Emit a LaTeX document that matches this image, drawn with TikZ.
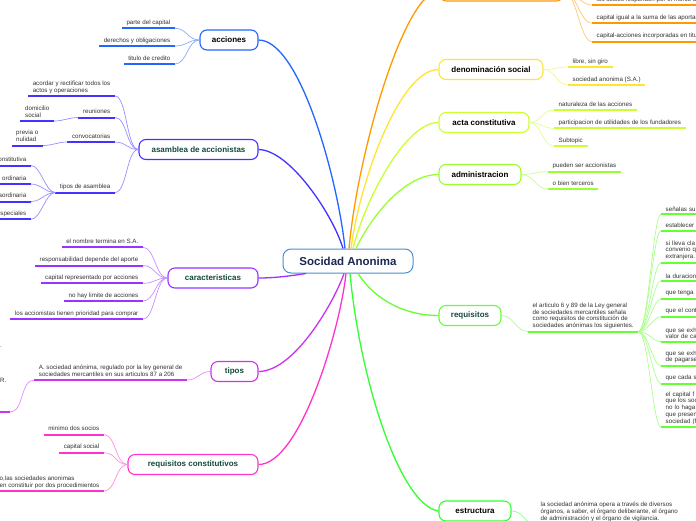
\documentclass[tikz,border=0pt]{standalone}
\usepackage{fontspec}
\setmainfont{Liberation Sans}
\definecolor{accblue}{HTML}{2266FF}
\definecolor{asmviolet}{HTML}{4433FF}
\definecolor{carpurple}{HTML}{9933FF}
\definecolor{tipmag}{HTML}{CC33EE}
\definecolor{rqcpink}{HTML}{FF33CC}
\definecolor{orgorange}{HTML}{FF9900}
\definecolor{denyellow}{HTML}{FFE533}
\definecolor{actlime}{HTML}{CCFF33}
\definecolor{admgreen}{HTML}{99FF33}
\definecolor{reqgreen}{HTML}{66FF33}
\definecolor{estgreen}{HTML}{33FF33}
\definecolor{centralblue}{HTML}{4A90D0}
\definecolor{navy}{HTML}{1A2A50}
\definecolor{dkgreen}{HTML}{124A3A}
\definecolor{leafgray}{HTML}{333333}
\begin{document}
\begin{tikzpicture}[x=1pt,y=-1pt,
  branch/.style={draw=#1, line width=1.1pt, rounded corners=7pt, fill=white,
    minimum height=20pt, inner sep=0pt, font=\fontsize{8}{9}\selectfont\bfseries, text=black},
  leaf/.style={inner xsep=4.5pt, inner ysep=2.2pt, text depth=1.4pt,
    font=\fontsize{6.2}{6.8}\selectfont, text=leafgray, align=left,
    append after command={\pgfextra{\let\ulnode\tikzlastnode}
      (\ulnode.south west) edge[draw=#1, line width=2pt] (\ulnode.south east)}},
  edgeleaf/.style={leaf=#1, anchor=south west, text width=40pt, text depth={}, inner ysep=2.6pt},
  frag/.style={inner sep=0pt, font=\fontsize{6.2}{6.8}\selectfont, text=leafgray},
  mainc/.style={draw=#1, line width=1.3pt},
  lc/.style={draw=#1!55, line width=0.7pt}]
\useasboundingbox (0,0) rectangle (696,520);
\fill[white] (0,0) rectangle (696,520);
\clip (0,0) rectangle (696,520);

% ---------- central and branch boxes ----------
\node[draw=centralblue, line width=1pt, rounded corners=8pt, fill=white,
  minimum width=130pt, minimum height=24pt, inner sep=0pt,
  font=\fontsize{11.5}{13}\selectfont\bfseries, text=navy] (c) at (348,261) {Socidad Anonima};

\node[branch=accblue, minimum width=58pt] (acc) at (229,40) {acciones};
\node[branch=asmviolet, minimum width=119pt, text=dkgreen] (asm) at (198.5,149.5) {asamblea de accionistas};
\node[branch=carpurple, minimum width=90pt, text=dkgreen] (car) at (213,278) {caracteristicas};
\node[branch=tipmag, minimum width=47pt, text=dkgreen] (tip) at (234.5,371.5) {tipos};
\node[branch=rqcpink, minimum width=130pt, text=dkgreen] (rqc) at (193,464.5) {requisitos constitutivos};
\node[branch=orgorange, minimum width=124pt] (org) at (501.5,-9) {};
\node[branch=denyellow, minimum width=104pt] (den) at (491,69.5) {denominación social};
\node[branch=actlime, minimum width=90pt] (act) at (484,122.5) {acta constitutiva};
\node[branch=admgreen, minimum width=82pt] (adm) at (480,174.5) {administracion};
\node[branch=reqgreen, minimum width=62pt, text=dkgreen] (req) at (470,315.5) {requisitos};
\node[branch=estgreen, minimum width=72pt] (est) at (475,511) {estructura};

% ---------- main connectors ----------
\draw[mainc=accblue] ([xshift=-3pt]c.north) .. controls (338,180) and (300,40) .. (acc.east);
\draw[mainc=asmviolet] ([xshift=-5pt]c.north) .. controls (333,215) and (290,150) .. (asm.east);
\draw[mainc=carpurple] ([xshift=-42pt]c.south) .. controls (290,276) and (275,278) .. (car.east);
\draw[mainc=tipmag] ([xshift=-4pt]c.south) .. controls (335,300) and (295,371.5) .. (tip.east);
\draw[mainc=rqcpink] ([xshift=-2pt]c.south) .. controls (340,330) and (300,464.5) .. (rqc.east);
\draw[mainc=orgorange] ([xshift=1pt]c.north) .. controls (358,150) and (405,-9) .. (org.west);
\draw[mainc=denyellow] ([xshift=3pt]c.north) .. controls (360,180) and (400,69.5) .. (den.west);
\draw[mainc=actlime] ([xshift=5pt]c.north) .. controls (365,200) and (405,122.5) .. (act.west);
\draw[mainc=admgreen] ([xshift=8pt]c.north) .. controls (372,215) and (405,174.5) .. (adm.west);
\draw[mainc=reqgreen] ([xshift=10pt]c.south) .. controls (375,300) and (405,315.5) .. (req.west);
\draw[mainc=estgreen] ([xshift=2pt]c.south) .. controls (360,380) and (400,505) .. (est.west);

% ---------- acciones ----------
\node[leaf=accblue, anchor=south east] (a1) at (175,28.3) {parte del capital};
\node[leaf=accblue, anchor=south east] (a2) at (175,46) {derechos y obligaciones};
\node[leaf=accblue, anchor=south east] (a3) at (175,64) {titulo de credito};
\foreach \n in {a1,a2,a3}
  \draw[lc=accblue] (acc.west) .. controls +(-12,0) and +(12,0) .. (\n.south east);

% ---------- asamblea ----------
\node[leaf=asmviolet, anchor=south east] (s1) at (115,96) {acordar y rectificar todos los\\actos y operaciones};
\node[leaf=asmviolet, anchor=south east] (s2) at (115,117.5) {reuniones};
\node[leaf=asmviolet, anchor=south east] (s3) at (115,142) {convocatorias};
\node[leaf=asmviolet, anchor=south east] (s4) at (115,192.5) {tipos de asamblea};
\foreach \n in {s1,s2,s3,s4}
  \draw[lc=asmviolet] (asm.west) .. controls +(-12,0) and +(12,0) .. (\n.south east);
\node[leaf=asmviolet, anchor=south east] (s2a) at (54,121) {domicilio\\social};
\node[leaf=asmviolet, anchor=south east] (s3a) at (43,145.5) {previa o\\nulidad};
\draw[lc=asmviolet] (s2.south west) .. controls +(-10,0) and +(10,0) .. (s2a.south east);
\draw[lc=asmviolet] (s3.south west) .. controls +(-10,0) and +(10,0) .. (s3a.south east);
\node[leaf=asmviolet, anchor=south east] (s4a) at (31,165.5) {constitutiva};
\node[leaf=asmviolet, anchor=south east] (s4b) at (31,184) {ordinaria};
\node[leaf=asmviolet, anchor=south east] (s4c) at (31,201.5) {extraordinaria};
\node[leaf=asmviolet, anchor=south east] (s4d) at (31,219.3) {especiales};
\foreach \n in {s4a,s4b,s4c,s4d}
  \draw[lc=asmviolet] (s4.south west) .. controls +(-10,0) and +(10,0) .. (\n.south east);

% ---------- caracteristicas ----------
\node[leaf=carpurple, anchor=south east] (c1) at (143,247.3) {el nombre termina en S.A.};
\node[leaf=carpurple, anchor=south east] (c2) at (143,265.5) {responsabilidad depende del aporte};
\node[leaf=carpurple, anchor=south east] (c3) at (143,283.3) {capital representado por acciones};
\node[leaf=carpurple, anchor=south east] (c4) at (143,301) {no hay limite de acciones};
\node[leaf=carpurple, anchor=south east] (c5) at (143,319) {los accionistas tienen prioridad para comprar};
\foreach \n in {c1,c2,c3,c4,c5}
  \draw[lc=carpurple] (car.west) .. controls +(-12,0) and +(12,0) .. (\n.south east);

% ---------- tipos ----------
\node[leaf=tipmag, anchor=south east] (t1) at (187,380) {A. sociedad anónima, regulado por la ley general de\\sociedades mercantiles en sus articulos 87 a 206};
\draw[lc=tipmag] (tip.west) .. controls +(-12,0) and +(12,0) .. (t1.south east);
\node[leaf=tipmag, anchor=south east, minimum width=40pt, minimum height=6pt] (t1a) at (10,412) {};
\draw[lc=tipmag] (t1.south west) .. controls +(-14,0) and +(14,0) .. (t1a.south east);
\node[frag, anchor=west] (t1b) at (0,347) {.};
\node[frag, anchor=west] (t1c) at (0,380) {R.};

% ---------- requisitos constitutivos ----------
\node[leaf=rqcpink, anchor=south east] (r1) at (104,434.7) {minimo dos socios};
\node[leaf=rqcpink, anchor=south east] (r2) at (104,452.7) {capital social};
\node[leaf=rqcpink, anchor=south east] (r3) at (104,491) {o,las sociedades anonimas\\en constituir por dos procedimientos};
\foreach \n in {r1,r2,r3}
  \draw[lc=rqcpink] (rqc.west) .. controls +(-12,0) and +(12,0) .. (\n.south east);

% ---------- orange (top) ----------
\node[leaf=orgorange, anchor=south west] (o1) at (592,5) {los socios responden por el monto de su aportación};
\node[leaf=orgorange, anchor=south west] (o2) at (592,23.3) {capital igual a la suma de las aportaciones};
\node[leaf=orgorange, anchor=south west] (o3) at (592,41.7) {capital-acciones incorporadas en titulos};
\foreach \n in {o1,o2,o3}
  \draw[lc=orgorange] (org.east) .. controls +(12,0) and +(-12,0) .. (\n.south west);

% ---------- denominacion social ----------
\node[leaf=denyellow, anchor=south west] (d1) at (568,67) {libre, sin giro};
\node[leaf=denyellow, anchor=south west] (d2) at (568,85) {sociedad anonima (S.A.)};
\foreach \n in {d1,d2}
  \draw[lc=denyellow] (den.east) .. controls +(12,0) and +(-12,0) .. (\n.south west);

% ---------- acta constitutiva ----------
\node[leaf=actlime, anchor=south west] (k1) at (554,110) {naturaleza de las acciones};
\node[leaf=actlime, anchor=south west] (k2) at (554,128.3) {participacion de utilidades de los fundadores};
\node[leaf=actlime, anchor=south west] (k3) at (554,146) {Subtopic};
\foreach \n in {k1,k2,k3}
  \draw[lc=actlime] (act.east) .. controls +(12,0) and +(-12,0) .. (\n.south west);

% ---------- administracion ----------
\node[leaf=admgreen, anchor=south west] (m1) at (548,171.7) {pueden ser accionistas};
\node[leaf=admgreen, anchor=south west] (m2) at (548,189.3) {o bien terceros};
\foreach \n in {m1,m2}
  \draw[lc=admgreen] (adm.east) .. controls +(12,0) and +(-12,0) .. (\n.south west);

% ---------- requisitos ----------
\node[leaf=reqgreen, anchor=south west] (q0) at (528,331.5) {el articulo 6 y 89 de la Ley general\\de sociedades mercantiles señala\\como requisitos de constitución de\\sociedades anónimas los siguientes.};
\draw[lc=reqgreen] (req.east) .. controls +(12,0) and +(-12,0) .. (q0.south west);
\node[edgeleaf=reqgreen] (q1) at (661,214.3) {señalas su};
\node[edgeleaf=reqgreen] (q2) at (661,230.7) {establecer};
\node[edgeleaf=reqgreen] (q3) at (661,262.7) {si lleva cla\\convenio q\\extranjera.};
\node[edgeleaf=reqgreen] (q4) at (661,281) {la duracion};
\node[edgeleaf=reqgreen] (q5) at (661,299) {que tenga};
\node[edgeleaf=reqgreen] (q6) at (661,316.7) {que el cont};
\node[edgeleaf=reqgreen] (q7) at (661,341.7) {que se exh\\valor de ca};
\node[edgeleaf=reqgreen] (q8) at (661,366) {que se exh\\de pagarse};
\node[edgeleaf=reqgreen] (q9) at (661,383.5) {que cada s};
\node[edgeleaf=reqgreen] (q10) at (661,427.3) {el capital f\\que los soc\\no lo haga\\que presen\\sociedad (f};
\foreach \n in {q1,q2,q3,q4,q5,q6,q7,q8,q9,q10}
  \draw[lc=reqgreen] (q0.south east) .. controls +(10,0) and +(-8,0) .. (\n.south west);

% ---------- estructura ----------
\node[leaf=estgreen, anchor=south west] (e1) at (536,524) {la sociedad anónima opera a través de diversos\\órganos, a saber, el órgano deliberante, el órgano\\de administración y el órgano de vigilancia.};
\draw[lc=estgreen] (est.east) .. controls +(12,0) and +(-12,0) .. (e1.south west);
\end{tikzpicture}
\end{document}
